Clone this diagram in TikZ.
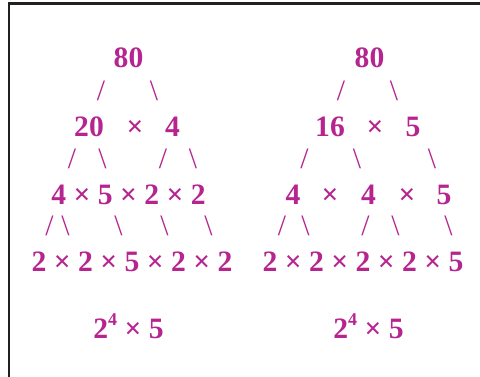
\documentclass[tikz,border=0pt]{standalone}
\usepackage{fontspec}
\setmainfont{Liberation Serif}
\definecolor{rub}{RGB}{181,36,143}
\definecolor{frame}{RGB}{35,31,32}
\begin{document}
\begin{tikzpicture}[x=1pt,y=-1pt,
  num/.style={inner sep=0pt,anchor=base,text=rub,font=\fontsize{29.6}{30}\selectfont\bfseries},
  sl/.style={inner sep=0pt,anchor=base,text=rub,font=\fontsize{29.6}{30}\selectfont}]
\useasboundingbox (0,0) rectangle (480,377);
\draw[frame,line width=2.6pt] (9,377) -- (9,3.3) -- (480,3.3);
% left tree
\node[num] (l80) at (128.5,68) {80};
\node[sl] (ls1) at (101,101) {/};
\node[sl] (ls2) at (154,101) {\textbackslash};
\node[num] (l20) at (89,137) {20};
\node[num] (lx1) at (135,137) {×};
\node[num] (l4) at (172.5,137) {4};
\node[sl] (ls3) at (72,169) {/};
\node[sl] (ls4) at (102.5,169) {\textbackslash};
\node[sl] (ls5) at (163,169) {/};
\node[sl] (ls6) at (193,169) {\textbackslash};
\node[num] (lr5) at (128.5,205) {4 × 5 × 2 × 2};
\node[sl] (ls7) at (49.5,236) {/};
\node[sl] (ls8) at (65.5,236) {\textbackslash};
\node[sl] (ls9) at (118.5,236) {\textbackslash};
\node[sl] (ls10) at (164.5,236) {\textbackslash};
\node[sl] (ls11) at (208.5,236) {\textbackslash};
\node[num] (lr7) at (132,272) {2 × 2 × 5 × 2 × 2};
\node[num] (lres) at (128.5,338) {2\raisebox{0.42em}{\fontsize{18}{18}\selectfont 4} × 5};
% right tree
\node[num] (r80) at (369.5,68) {80};
\node[sl] (rs1) at (341,101) {/};
\node[sl] (rs2) at (394,101) {\textbackslash};
\node[num] (r16) at (330,137) {16};
\node[num] (rx1) at (375,137) {×};
\node[num] (r5) at (413,137) {5};
\node[sl] (rs3) at (304.5,169) {/};
\node[sl] (rs4) at (357,169) {\textbackslash};
\node[sl] (rs5) at (432,169) {\textbackslash};
\node[num] (ra) at (293,205) {4};
\node[num] (rxa) at (330,205) {×};
\node[num] (rb) at (368.5,205) {4};
\node[num] (rxb) at (407,205) {×};
\node[num] (rc) at (444,205) {5};
\node[sl] (rs6) at (282,236) {/};
\node[sl] (rs7) at (305.5,236) {\textbackslash};
\node[sl] (rs8) at (365.5,236) {/};
\node[sl] (rs9) at (395.5,236) {\textbackslash};
\node[sl] (rs10) at (448.5,236) {\textbackslash};
\node[num] (rr7) at (363,272) {2 × 2 × 2 × 2 × 5};
\node[num] (rres) at (368.5,338) {2\raisebox{0.42em}{\fontsize{18}{18}\selectfont 4} × 5};
\end{tikzpicture}
\end{document}
